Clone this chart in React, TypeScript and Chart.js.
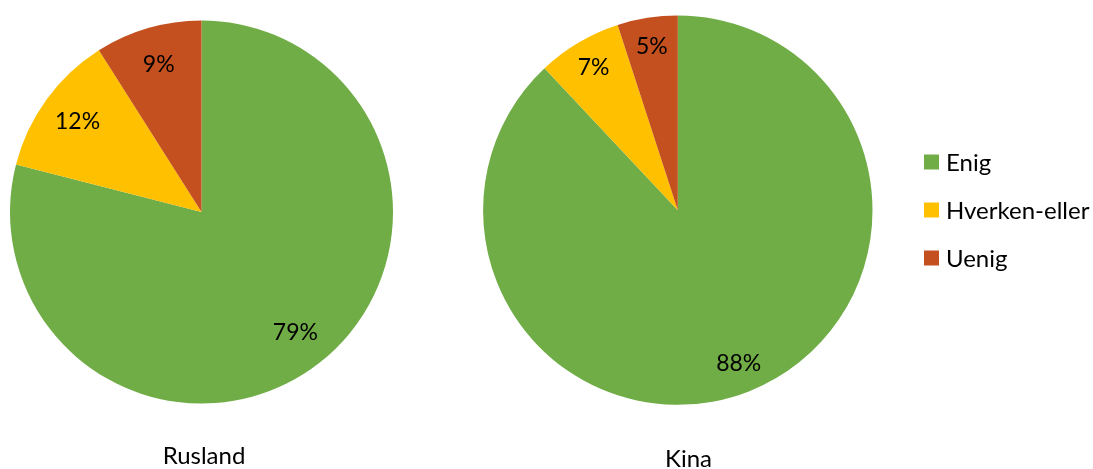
import React, { useEffect, useRef } from "react";
import { Chart, registerables } from "chart.js";

Chart.register(...registerables);

const categories = ["Enig", "Hverken-eller", "Uenig"];
const ruslandValues = [79, 12, 9];
const kinaValues = [88, 7, 5];
const chartTitles = ["Rusland", "Kina"];
const sliceColors = ["#70AD47", "#FFC000", "#C4501F"];

const FONT = "Lato, 'Open Sans', sans-serif";

function makeLabelPlugin(labelFactor: number, titleX: number, titleY: number, title: string, legend?: { x: number; ys: number[] }) {
  return {
    id: "customLabels",
    afterDraw(chart: any) {
      const ctx = chart.ctx;
      const meta = chart.getDatasetMeta(0);
      const data = chart.data.datasets[0].data as number[];
      ctx.save();
      ctx.fillStyle = "#000";
      ctx.textAlign = "center";
      ctx.textBaseline = "middle";
      ctx.font = `23px ${FONT}`;
      meta.data.forEach((arc: any, i: number) => {
        const p = arc.getProps(["x", "y", "startAngle", "endAngle", "outerRadius"], true);
        const mid = (p.startAngle + p.endAngle) / 2;
        const r = p.outerRadius * labelFactor;
        ctx.fillText(`${data[i]}%`, p.x + Math.cos(mid) * r, p.y + Math.sin(mid) * r);
      });
      ctx.font = `24px ${FONT}`;
      ctx.textBaseline = "alphabetic";
      ctx.fillText(title, titleX, titleY);
      if (legend) {
        const labels = chart.data.labels as string[];
        const colors = chart.data.datasets[0].backgroundColor as string[];
        ctx.textAlign = "left";
        ctx.textBaseline = "middle";
        ctx.font = `24px ${FONT}`;
        labels.forEach((lab, i) => {
          const y = legend.ys[i];
          ctx.fillStyle = colors[i];
          ctx.fillRect(legend.x, y - 7.5, 15, 15);
          ctx.fillStyle = "#000";
          ctx.fillText(lab, legend.x + 22, y + 1);
        });
      }
      ctx.restore();
    },
  };
}

function PieCanvas(props: {
  values: number[];
  width: number;
  left: number;
  padding: { left: number; right: number; top: number; bottom: number };
  plugin: any;
}) {
  const ref = useRef<HTMLCanvasElement | null>(null);
  useEffect(() => {
    if (!ref.current) return;
    const chart = new Chart(ref.current, {
      type: "pie",
      data: {
        labels: categories,
        datasets: [
          {
            data: props.values,
            backgroundColor: sliceColors,
            borderWidth: 0,
          },
        ],
      },
      options: {
        responsive: false,
        animation: false,
        layout: { padding: props.padding },
        plugins: {
          legend: { display: false },
          tooltip: { enabled: false },
          title: { display: false },
        },
      },
      plugins: [props.plugin],
    });
    return () => chart.destroy();
  }, []);
  return (
    <canvas
      ref={ref}
      width={props.width}
      height={469}
      style={{ position: "absolute", left: props.left, top: 0, width: props.width, height: 469 }}
    />
  );
}

export default function App() {
  const leftPlugin = makeLabelPlugin(0.8, 204, 464, chartTitles[0]);
  const rightPlugin = makeLabelPlugin(0.85, 688.5 - 440, 467, chartTitles[1], {
    x: 924 - 440,
    ys: [162, 210, 258],
  });
  return (
    <div style={{ position: "fixed", left: 0, top: 0, width: 1093, height: 469, background: "#fff" }}>
      <PieCanvas
        values={ruslandValues}
        width={440}
        left={0}
        padding={{ left: 10, right: 47, top: 20.5, bottom: 65.5 }}
        plugin={leftPlugin}
      />
      <PieCanvas
        values={kinaValues}
        width={653}
        left={440}
        padding={{ left: 43.1, right: 220.5, top: 15.3, bottom: 64 }}
        plugin={rightPlugin}
      />
    </div>
  );
}
